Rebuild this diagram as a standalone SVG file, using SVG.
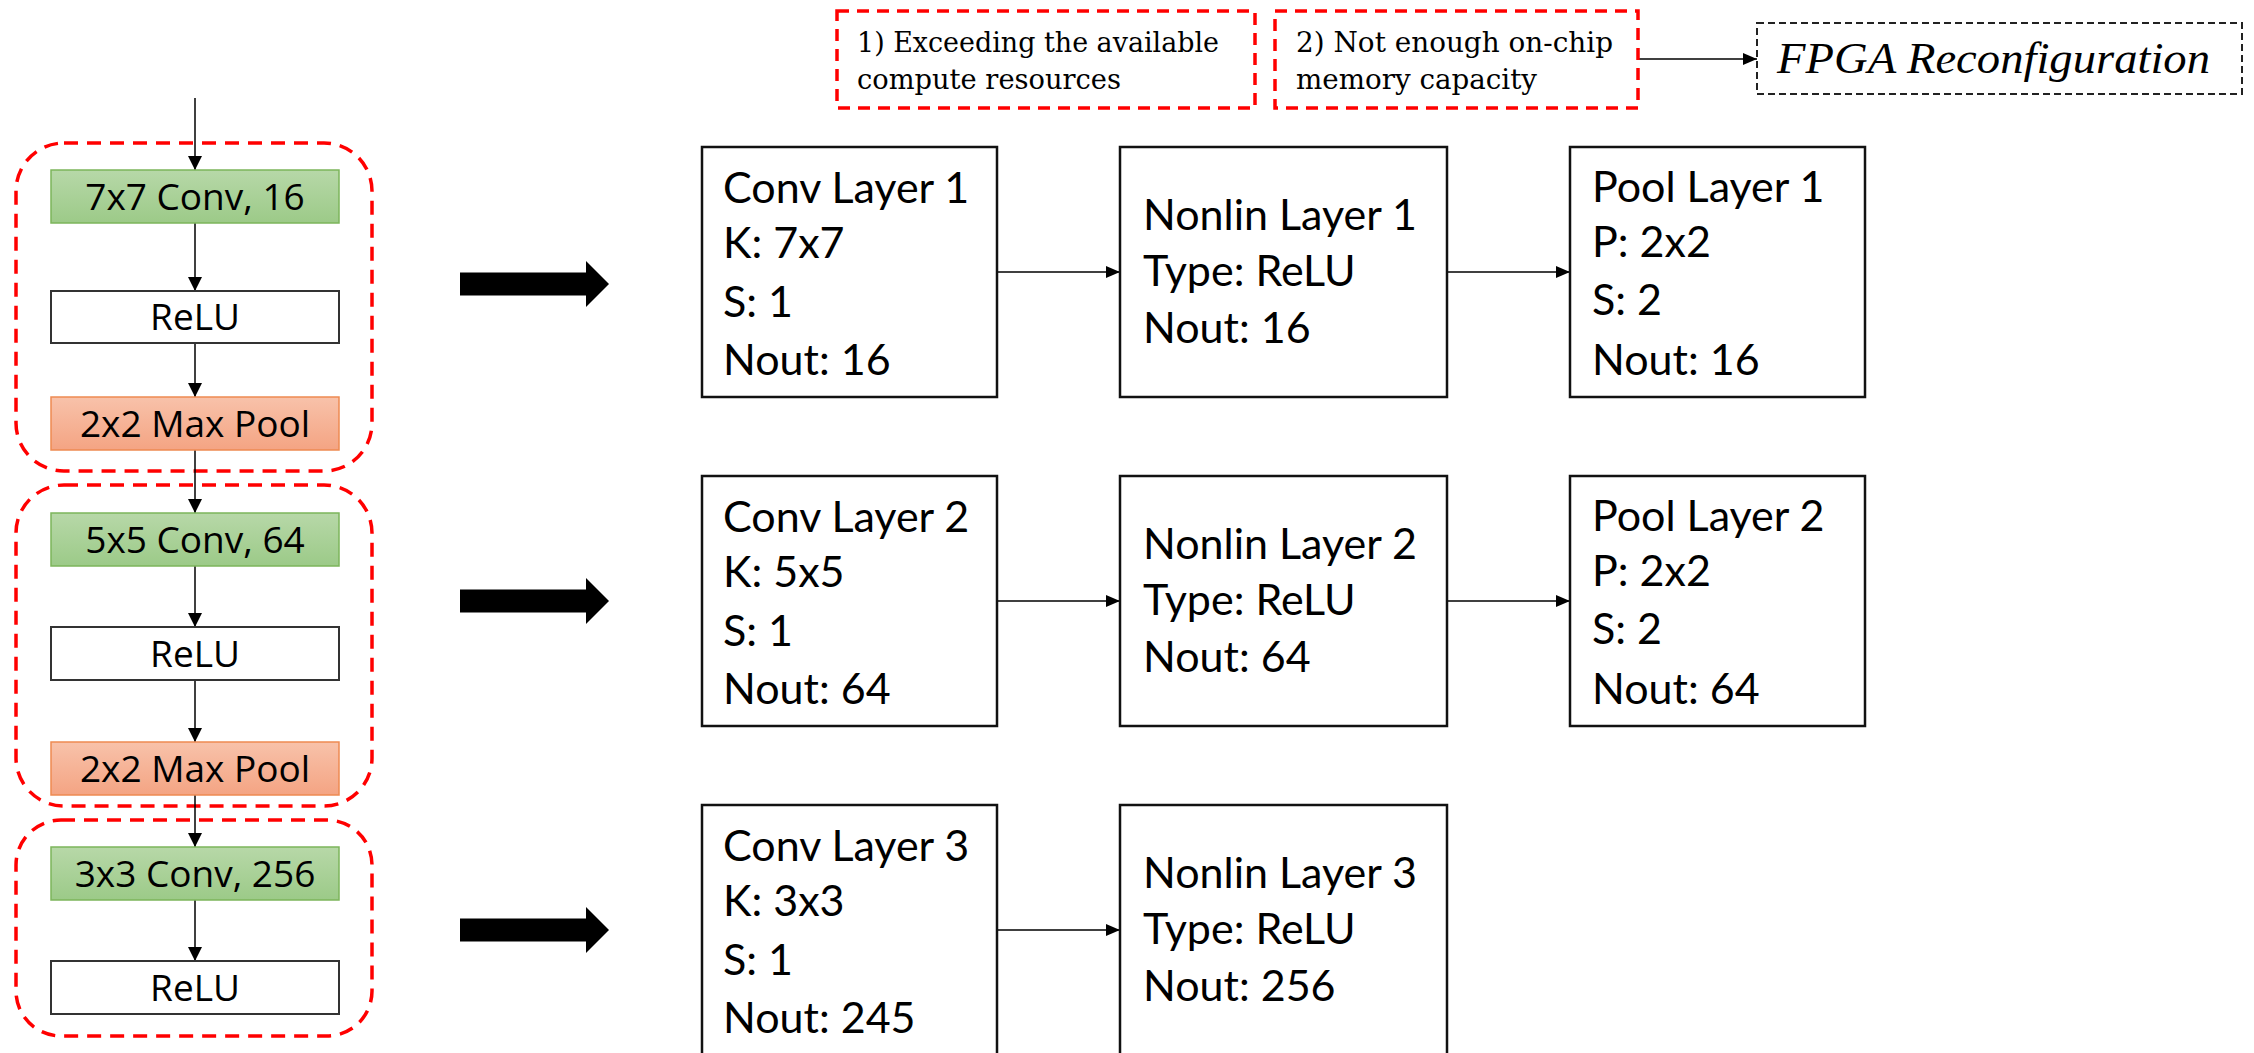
<svg xmlns="http://www.w3.org/2000/svg" width="2254" height="1053" viewBox="0 0 2254 1053">
<defs>
  <linearGradient id="gGreen" x1="0" y1="0" x2="0" y2="1">
    <stop offset="0" stop-color="#B7D8A8"/>
    <stop offset="1" stop-color="#9CCA88"/>
  </linearGradient>
  <linearGradient id="gOrange" x1="0" y1="0" x2="0" y2="1">
    <stop offset="0" stop-color="#F8C2AA"/>
    <stop offset="1" stop-color="#F4A483"/>
  </linearGradient>
  <marker id="ahL" markerUnits="userSpaceOnUse" markerWidth="14" markerHeight="14" refX="14" refY="7" orient="auto">
    <path d="M0,0 L14,7 L0,14 z" fill="#000"/>
  </marker>
  <marker id="ahR" markerUnits="userSpaceOnUse" markerWidth="14" markerHeight="14" refX="14" refY="7" orient="auto">
    <path d="M0,1 L14,7 L0,13 z" fill="#000"/>
  </marker>
</defs>
<style>
  .grp { fill: none; stroke: #FF0000; stroke-width: 3.5; stroke-dasharray: 14 9; }
  .conv { fill: url(#gGreen); stroke: #7CB55B; stroke-width: 1.5; }
  .pool { fill: url(#gOrange); stroke: #EE8A52; stroke-width: 1.5; }
  .relu { fill: #FFFFFF; stroke: #333333; stroke-width: 2; }
  .lt { font-family: "Open Sans", "DejaVu Sans", sans-serif; font-size: 37px; fill: #000; text-anchor: middle; }
  .box { fill: #FFFFFF; stroke: #111111; stroke-width: 2.5; }
  .bt { font-family: Lato, "Open Sans", sans-serif; font-size: 43px; fill: #000; }
  .cond { fill: #FFFFFF; stroke: #FF0000; stroke-width: 3.5; stroke-dasharray: 12 8; }
  .ct { font-family: "DejaVu Serif", "Liberation Serif", serif; font-size: 27px; fill: #000; }
  .fpga { fill: #FFFFFF; stroke: #222222; stroke-width: 2; stroke-dasharray: 7 4; }
  .ft { font-family: "Liberation Serif", "DejaVu Serif", serif; font-style: italic; font-size: 45px; fill: #000; }
  .big { fill: #000; }
  .ln { stroke: #000; stroke-width: 1.5; fill: none; }
</style>

<g id="groups">
  <rect class="grp" x="16" y="143" width="356" height="328" rx="48" ry="48"/>
  <rect class="grp" x="16" y="485" width="356" height="321" rx="48" ry="48"/>
  <rect class="grp" x="16" y="820" width="356" height="216" rx="45" ry="45"/>
</g>

<g id="connectors">
  <line class="ln" x1="195" y1="98" x2="195" y2="170" marker-end="url(#ahL)"/>
  <line class="ln" x1="195" y1="223" x2="195" y2="291" marker-end="url(#ahL)"/>
  <line class="ln" x1="195" y1="343" x2="195" y2="397" marker-end="url(#ahL)"/>
  <line class="ln" x1="195" y1="450" x2="195" y2="513" marker-end="url(#ahL)"/>
  <line class="ln" x1="195" y1="566" x2="195" y2="627" marker-end="url(#ahL)"/>
  <line class="ln" x1="195" y1="680" x2="195" y2="742" marker-end="url(#ahL)"/>
  <line class="ln" x1="195" y1="795" x2="195" y2="847" marker-end="url(#ahL)"/>
  <line class="ln" x1="195" y1="900" x2="195" y2="961" marker-end="url(#ahL)"/>

  <polygon class="big" points="460,272.5 586,272.5 586,261 609,284 586,307 586,295.5 460,295.5"/>
  <polygon class="big" points="460,589.5 586,589.5 586,578 609,601 586,624 586,612.5 460,612.5"/>
  <polygon class="big" points="460,918.5 586,918.5 586,907 609,930 586,953 586,941.5 460,941.5"/>

  <line class="ln" x1="997" y1="272" x2="1120" y2="272" marker-end="url(#ahR)"/>
  <line class="ln" x1="1447" y1="272" x2="1570" y2="272" marker-end="url(#ahR)"/>
  <line class="ln" x1="997" y1="601" x2="1120" y2="601" marker-end="url(#ahR)"/>
  <line class="ln" x1="1447" y1="601" x2="1570" y2="601" marker-end="url(#ahR)"/>
  <line class="ln" x1="997" y1="930" x2="1120" y2="930" marker-end="url(#ahR)"/>

  <line class="ln" x1="1638" y1="59" x2="1757" y2="59" marker-end="url(#ahR)"/>
</g>

<g id="conv1"><rect class="conv" x="51" y="170" width="288" height="53"/><text class="lt" x="195" y="210">7x7 Conv, 16</text></g>
<g id="relu1"><rect class="relu" x="51" y="291" width="288" height="52"/><text class="lt" x="195" y="330">ReLU</text></g>
<g id="pool1"><rect class="pool" x="51" y="397" width="288" height="53"/><text class="lt" x="195" y="437">2x2 Max Pool</text></g>

<g id="conv2"><rect class="conv" x="51" y="513" width="288" height="53"/><text class="lt" x="195" y="553">5x5 Conv, 64</text></g>
<g id="relu2"><rect class="relu" x="51" y="627" width="288" height="53"/><text class="lt" x="195" y="667">ReLU</text></g>
<g id="pool2"><rect class="pool" x="51" y="742" width="288" height="53"/><text class="lt" x="195" y="782">2x2 Max Pool</text></g>

<g id="conv3"><rect class="conv" x="51" y="847" width="288" height="53"/><text class="lt" x="195" y="887">3x3 Conv, 256</text></g>
<g id="relu3"><rect class="relu" x="51" y="961" width="288" height="53"/><text class="lt" x="195" y="1001">ReLU</text></g>

<g id="convLayer1">
  <rect class="box" x="702" y="147" width="295" height="250"/>
  <text class="bt" x="723" y="203">Conv Layer 1</text>
  <text class="bt" x="723" y="258">K: 7x7</text>
  <text class="bt" x="723" y="317">S: 1</text>
  <text class="bt" x="723" y="375">Nout: 16</text>
</g>
<g id="nonlinLayer1">
  <rect class="box" x="1120" y="147" width="327" height="250"/>
  <text class="bt" x="1143" y="230">Nonlin Layer 1</text>
  <text class="bt" x="1143" y="286">Type: ReLU</text>
  <text class="bt" x="1143" y="343">Nout: 16</text>
</g>
<g id="poolLayer1">
  <rect class="box" x="1570" y="147" width="295" height="250"/>
  <text class="bt" x="1592" y="202">Pool Layer 1</text>
  <text class="bt" x="1592" y="257">P: 2x2</text>
  <text class="bt" x="1592" y="315">S: 2</text>
  <text class="bt" x="1592" y="375">Nout: 16</text>
</g>

<g id="convLayer2">
  <rect class="box" x="702" y="476" width="295" height="250"/>
  <text class="bt" x="723" y="532">Conv Layer 2</text>
  <text class="bt" x="723" y="587">K: 5x5</text>
  <text class="bt" x="723" y="646">S: 1</text>
  <text class="bt" x="723" y="704">Nout: 64</text>
</g>
<g id="nonlinLayer2">
  <rect class="box" x="1120" y="476" width="327" height="250"/>
  <text class="bt" x="1143" y="559">Nonlin Layer 2</text>
  <text class="bt" x="1143" y="615">Type: ReLU</text>
  <text class="bt" x="1143" y="672">Nout: 64</text>
</g>
<g id="poolLayer2">
  <rect class="box" x="1570" y="476" width="295" height="250"/>
  <text class="bt" x="1592" y="531">Pool Layer 2</text>
  <text class="bt" x="1592" y="586">P: 2x2</text>
  <text class="bt" x="1592" y="644">S: 2</text>
  <text class="bt" x="1592" y="704">Nout: 64</text>
</g>

<g id="convLayer3">
  <rect class="box" x="702" y="805" width="295" height="260"/>
  <text class="bt" x="723" y="861">Conv Layer 3</text>
  <text class="bt" x="723" y="916">K: 3x3</text>
  <text class="bt" x="723" y="975">S: 1</text>
  <text class="bt" x="723" y="1033">Nout: 245</text>
</g>
<g id="nonlinLayer3">
  <rect class="box" x="1120" y="805" width="327" height="260"/>
  <text class="bt" x="1143" y="888">Nonlin Layer 3</text>
  <text class="bt" x="1143" y="944">Type: ReLU</text>
  <text class="bt" x="1143" y="1001">Nout: 256</text>
</g>

<g id="cond1">
  <rect class="cond" x="837" y="11" width="418" height="97"/>
  <text class="ct" x="857" y="52" textLength="362" lengthAdjust="spacingAndGlyphs">1) Exceeding the available</text>
  <text class="ct" x="857" y="89" textLength="264" lengthAdjust="spacingAndGlyphs">compute resources</text>
</g>
<g id="cond2">
  <rect class="cond" x="1275" y="11" width="363" height="97"/>
  <text class="ct" x="1296" y="52" textLength="317" lengthAdjust="spacingAndGlyphs">2) Not enough on-chip</text>
  <text class="ct" x="1296" y="89" textLength="241" lengthAdjust="spacingAndGlyphs">memory capacity</text>
</g>
<g id="fpga">
  <rect class="fpga" x="1757" y="23" width="485" height="71"/>
  <text class="ft" x="1777" y="73" textLength="433" lengthAdjust="spacingAndGlyphs">FPGA Reconfiguration</text>
</g>
</svg>
